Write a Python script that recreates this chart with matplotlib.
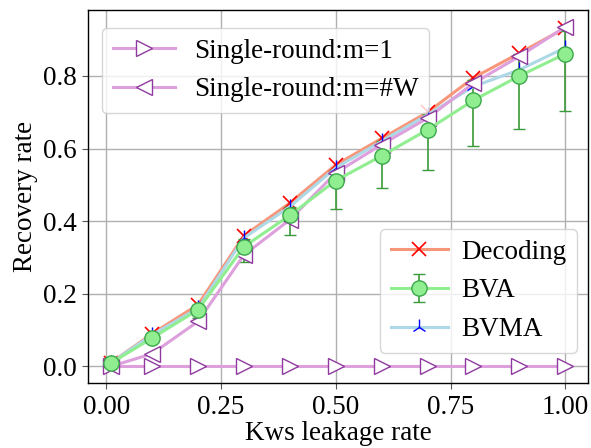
import matplotlib
matplotlib.use("Agg")
import matplotlib.pyplot as plt
import numpy as np

plt.rcParams["font.family"] = ["Liberation Serif", "DejaVu Serif"]
plt.rcParams["font.size"] = 19.5

# Keyword leakage rate
leak_rate = [0.01, 0.1, 0.2, 0.3, 0.4, 0.5, 0.6, 0.7, 0.8, 0.9, 1.0]

# Recovery rates per attack
decoding = [0.01, 0.09, 0.17, 0.36, 0.45, 0.555, 0.628, 0.70, 0.795, 0.863, 0.932]
bva = [0.009, 0.078, 0.156, 0.33, 0.416, 0.512, 0.58, 0.652, 0.733, 0.80, 0.861]
bva_low = [0.0, 0.07, 0.133, 0.287, 0.361, 0.434, 0.491, 0.542, 0.606, 0.655, 0.704]
bva_high = [0.01, 0.09, 0.17, 0.351, 0.44, 0.542, 0.62, 0.696, 0.79, 0.86, 0.923]
bvma = [0.01, 0.087, 0.16, 0.354, 0.44, 0.547, 0.62, 0.693, 0.771, 0.817, 0.878]
single_m1 = [0.0, 0.0, 0.0, 0.0, 0.0, 0.0, 0.0, 0.0, 0.0, 0.0, 0.0]
single_mw = [0.0, 0.035, 0.124, 0.307, 0.404, 0.533, 0.611, 0.684, 0.78, 0.854, 0.935]

fig = plt.figure(figsize=(5.91, 4.48), dpi=100)
ax = fig.add_axes([0.149, 0.144, 0.846, 0.834])

lw = 2.2
h_dec, = ax.plot(leak_rate, decoding, color="#f8967a", lw=lw, marker="x",
                 markersize=10, markeredgecolor="red", markeredgewidth=1.2,
                 label="Decoding")
yerr = np.array([np.array(bva) - np.array(bva_low),
                 np.array(bva_high) - np.array(bva)])
h_bva = ax.errorbar(leak_rate, bva, yerr=yerr, color="#90ee90", lw=lw,
                    marker="o", markersize=11, markerfacecolor="#90ee90",
                    markeredgecolor="#3aa84a", markeredgewidth=1.0,
                    ecolor="#3a9a3a", elinewidth=1.2, capsize=4.5,
                    capthick=1.2, label="BVA")
h_bvma, = ax.plot(leak_rate, bvma, color="#add8e6", lw=lw, marker="2",
                  markersize=11, markeredgecolor="blue", markeredgewidth=1.0,
                  label="BVMA")
h_s1, = ax.plot(leak_rate, single_m1, color="#dda0dd", lw=lw, marker=">",
                markersize=11, markerfacecolor="white",
                markeredgecolor="#8e3a9e", markeredgewidth=1.0,
                label="Single-round:m=1")
h_sw, = ax.plot(leak_rate, single_mw, color="#dda0dd", lw=lw, marker="<",
                markersize=11, markerfacecolor="white",
                markeredgecolor="#8e3a9e", markeredgewidth=1.0,
                label="Single-round:m=#W")

ax.set_xlim(-0.0395, 1.0495)
ax.set_ylim(-0.047, 0.982)
ax.set_xticks([0.0, 0.25, 0.5, 0.75, 1.0])
ax.set_yticks([0.0, 0.2, 0.4, 0.6, 0.8])
ax.xaxis.set_major_formatter(matplotlib.ticker.FormatStrFormatter("%.2f"))
ax.yaxis.set_major_formatter(matplotlib.ticker.FormatStrFormatter("%.1f"))
ax.grid(True, color="#b0b0b0", lw=1.0)
ax.set_axisbelow(True)
ax.tick_params(axis="both", colors="black", length=4.3, pad=4,
               color="#555555")
for s in ax.spines.values():
    s.set_color("black")
    s.set_linewidth(1.0)

ax.set_xlabel("Kws leakage rate", labelpad=1)
ax.set_ylabel("Recovery rate", labelpad=3)

leg1 = ax.legend(handles=[h_s1, h_sw], loc="upper left",
                 bbox_to_anchor=(0.0275, 0.952), borderaxespad=0,
                 handlelength=2.3, handletextpad=0.7,
                 framealpha=0.8, edgecolor="#cccccc")
ax.add_artist(leg1)
ax.legend(handles=[h_dec, h_bva, h_bvma], loc="lower right",
          bbox_to_anchor=(0.978, 0.082), borderaxespad=0,
          handlelength=2.1, handletextpad=0.5,
          framealpha=0.8, edgecolor="#cccccc")

fig.savefig("out.png", dpi=100)
